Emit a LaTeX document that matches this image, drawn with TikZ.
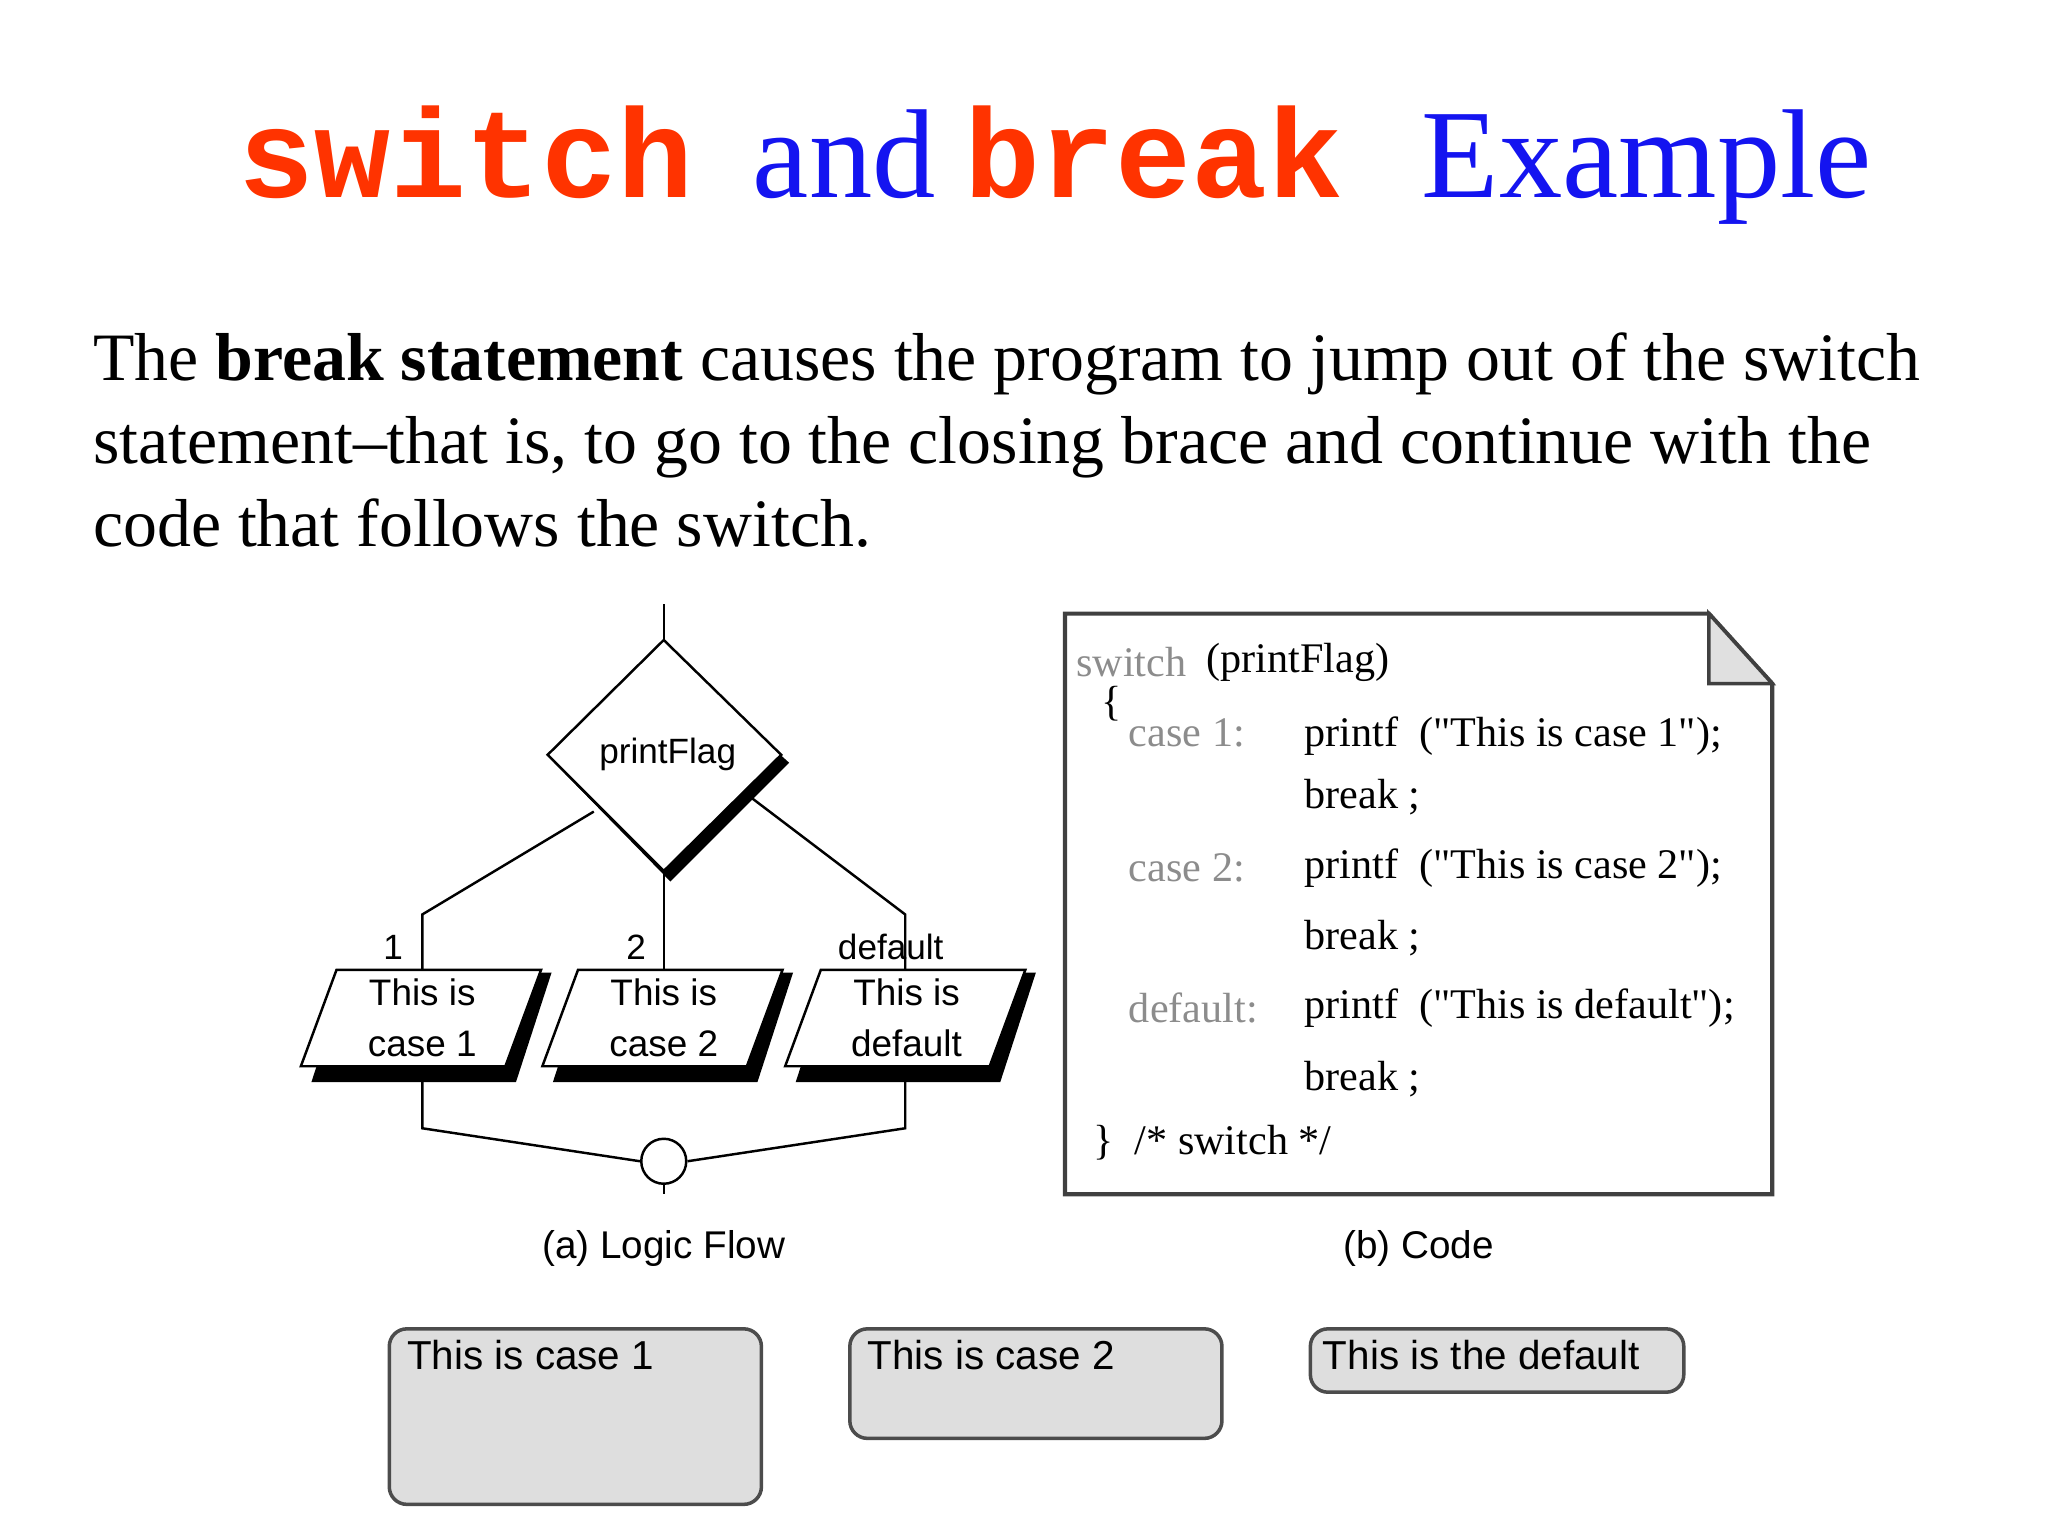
\documentclass[tikz,border=0pt]{standalone}
\usepackage{fontspec}
\usetikzlibrary{calc}
\setmainfont{Liberation Serif}
\setsansfont{Liberation Sans}
\setmonofont{Liberation Mono}
\definecolor{tred}{RGB}{255,51,0}
\definecolor{tblue}{RGB}{20,20,240}
\definecolor{kw}{RGB}{140,140,140}
\definecolor{boxg}{RGB}{222,222,222}
\newcommand{\dq}{\textquotedbl}
\begin{document}
\begin{tikzpicture}[x=0.013196cm,y=-0.013196cm,
  lab/.style={font=\sffamily\fontsize{10}{12}\selectfont,inner sep=0},
  code/.style={font=\fontsize{12}{14}\selectfont,inner sep=0,anchor=west},
  kwd/.style={code,text=kw},
  ln/.style={line width=0.7pt},
  obox/.style={draw=black!70,line width=1pt,fill=boxg,rounded corners=5pt},
  outt/.style={font=\sffamily\fontsize{11.5}{14}\selectfont,inner sep=0,anchor=north west}]
\useasboundingbox (0,0) rectangle (1552,1164);
% title
\node[inner sep=0,anchor=base west] (t1) at (180,150) {\fontsize{36}{40}\selectfont\ttfamily\bfseries\color{tred}switch};
\node[inner sep=0,anchor=base west] (t2) at (570,150) {\fontsize{36}{40}\selectfont\color{tblue}and};
\node[inner sep=0,anchor=base west] (t3) at (730,150) {\fontsize{36}{40}\selectfont\ttfamily\bfseries\color{tred}break};
\node[inner sep=0,anchor=base west] (t4) at (1077,150) {\fontsize{36}{40}\selectfont\color{tblue}Example};
% paragraph
\node[inner sep=0,anchor=base west] (p1) at (70,288) {\fontsize{19.3}{22}\selectfont The \textbf{break statement} causes the program to jump out of the switch};
\node[inner sep=0,anchor=base west] (p2) at (70,351) {\fontsize{19.3}{22}\selectfont statement--that is, to go to the closing brace and continue with the};
\node[inner sep=0,anchor=base west] (p3) at (70,414) {\fontsize{19.3}{22}\selectfont code that follows the switch.};
% diamond
\coordinate (top) at (503,458);
\fill (503,492) -- (598,578) -- (508,668) -- (420,578) -- cycle;
\draw[ln,fill=white] (503,485) coordinate (dt) -- (592,572) -- (503,660) coordinate (db) -- (415,572) -- cycle;
\node[lab] (pf) at (506,572) {printFlag};
\draw[ln] (top) -- (dt);
% branches
\draw[ln] (450,615) -- (320,693) -- (320,735);
\draw[ln] (db) -- (503,735);
\draw[ln] (570,605) -- (686,693) -- (686,735);
\node[lab,anchor=base] (l1) at (298,727) {1};
\node[lab,anchor=base] (l2) at (482,727) {2};
\node[lab,anchor=base] (l3) at (675,727) {default};
% parallelograms
\foreach \x/\t/\n in {0/case 1/c1,183/case 2/c2,367/default/c3}{
  \fill ($(263,737)+(\x,0)$) -- ($(418,737)+(\x,0)$) -- ($(391,820)+(\x,0)$) -- ($(236,820)+(\x,0)$) -- cycle;
  \draw[ln,fill=white] ($(255,735)+(\x,0)$) -- ($(410,735)+(\x,0)$) -- ($(383,808)+(\x,0)$) -- ($(228,808)+(\x,0)$) -- cycle;
  \node[lab,align=center,font=\sffamily\fontsize{10.5}{14.5}\selectfont] (\n) at ($(320,771)+(\x,0)$) {This is\\\t};
}
% merge
\node[circle,draw,line width=0.7pt,inner sep=0,minimum size=0.45cm] (j) at (503,880) {};
\draw[ln] (320,820) -- (320,855) -- (j.west);
\draw[ln] (686,820) -- (686,855) -- (j.east);
\coordinate (bot) at (503,905);
\draw[ln] (j) -- (bot);
\node[lab,font=\sffamily\fontsize{11}{13}\selectfont] (ca) at (503,946) {(a) Logic Flow};
\node[lab,font=\sffamily\fontsize{11}{13}\selectfont] (cb) at (1075,946) {(b) Code};
% code box
\draw[line width=1.2pt,draw=black!75] (807,465) -- (1295,465) -- (1343,518) -- (1343,905) -- (807,905) -- cycle;
\draw[line width=1pt,draw=black!75,fill=black!12] (1295,465) -- (1295,518) -- (1343,518) -- cycle;
\node[kwd] (k0) at (815,502) {switch};
\node[code] (k0b) at (914,502) {(printFlag)};
\node[code] (br1) at (834,533) {\{};
\node[kwd] (k1) at (855,555) {case 1:};
\node[code] (s1) at (988,558) {printf\ \ (\dq This is case 1\dq);};
\node[code] (b1) at (988,604) {break ;};
\node[kwd] (k2) at (855,658) {case 2:};
\node[code] (s2) at (988,658) {printf\ \ (\dq This is case 2\dq);};
\node[code] (b2) at (988,711) {break ;};
\node[kwd] (k3) at (855,764) {default:};
\node[code] (s3) at (988,764) {printf\ \ (\dq This is default\dq);};
\node[code] (b3) at (988,818) {break ;};
\node[code] (br2) at (828,866) {\}\ \ /* switch */};
% output boxes
\draw[obox] (295,1007) rectangle (577,1140);
\node[outt] (o1) at (308,1015) {This is case 1};
\draw[obox] (644,1007) rectangle (926,1090);
\node[outt] (o2) at (657,1015) {This is case 2};
\draw[obox] (993,1007) rectangle (1276,1055);
\node[outt] (o3) at (1002,1015) {This is the default};
\end{tikzpicture}
\end{document}
